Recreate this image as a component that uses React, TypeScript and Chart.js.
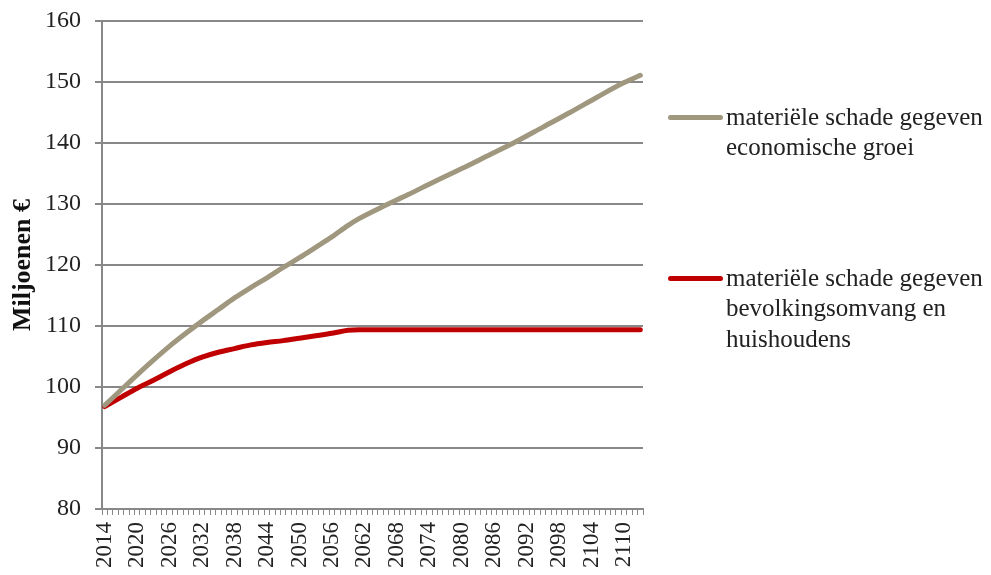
import React, { useEffect, useRef } from "react";
import { Chart, registerables } from "chart.js";

Chart.register(...registerables);

const firstYear = 2014;
const lastYear = 2113;
const labelStep = 6;

const yTicksMin = 80;
const yTicksMax = 160;
const yTicksStep = 10;

const keyYears = [
  2014, 2017, 2020, 2023, 2026, 2029, 2032, 2035, 2038, 2041, 2044, 2047, 2050,
  2053, 2056, 2059, 2061, 2065, 2070, 2075, 2080, 2085, 2090, 2095, 2100, 2105,
  2110, 2113,
];

const economicGrowth = [
  97.0, 99.5, 102.0, 104.4, 106.7, 108.8, 110.8, 112.7, 114.6, 116.3, 117.9,
  119.6, 121.2, 122.9, 124.6, 126.5, 127.6, 129.4, 131.5, 133.7, 135.8, 138.0,
  140.2, 142.6, 145.0, 147.5, 149.9, 151.1,
];

const populationHouseholds = [
  96.8, 98.3, 99.8, 101.1, 102.5, 103.8, 104.9, 105.7, 106.3, 106.9, 107.3,
  107.6, 108.0, 108.4, 108.8, 109.3, 109.4, 109.4, 109.4, 109.4, 109.4, 109.4,
  109.4, 109.4, 109.4, 109.4, 109.4, 109.4,
];

const seriesNames = [
  ["materiële schade gegeven", "economische groei"],
  ["materiële schade gegeven", "bevolkingsomvang en", "huishoudens"],
];
const seriesColors = ["#A0977F", "#C00000"];
const yTitle = "Miljoenen €";

const FONT = "'Liberation Serif', 'Times New Roman', serif";

export default function App() {
  const canvasRef = useRef<HTMLCanvasElement | null>(null);

  useEffect(() => {
    document.body.style.margin = "0";
    const labels: string[] = [];
    for (let y = firstYear; y <= lastYear; y++) labels.push(String(y));
    const toSeries = (vals: number[]) =>
      labels.map((l) => {
        const i = keyYears.indexOf(Number(l));
        return i >= 0 ? vals[i] : null;
      });

    const chart = new Chart(canvasRef.current!, {
      type: "line",
      data: {
        labels,
        datasets: [
          {
            label: seriesNames[0].join(" "),
            data: toSeries(economicGrowth),
            borderColor: seriesColors[0],
            backgroundColor: seriesColors[0],
            borderWidth: 5,
            pointRadius: 0,
            spanGaps: true,
            cubicInterpolationMode: "monotone",
            borderCapStyle: "round",
            borderJoinStyle: "round",
          },
          {
            label: seriesNames[1].join(" "),
            data: toSeries(populationHouseholds),
            borderColor: seriesColors[1],
            backgroundColor: seriesColors[1],
            borderWidth: 5,
            pointRadius: 0,
            spanGaps: true,
            cubicInterpolationMode: "monotone",
            borderCapStyle: "round",
            borderJoinStyle: "round",
          },
        ],
      },
      options: {
        animation: false,
        responsive: true,
        maintainAspectRatio: false,
        layout: { padding: { top: 21, right: 348, left: 0, bottom: 0 } },
        plugins: {
          legend: { display: false },
          tooltip: { enabled: false },
        },
        scales: {
          x: {
            type: "category",
            offset: true,
            grid: {
              offset: true,
              drawOnChartArea: false,
              drawTicks: true,
              tickLength: 6,
              color: "#888888",
              lineWidth: 1,
            },
            border: { color: "#888888", width: 2 },
            ticks: {
              autoSkip: false,
              maxRotation: 90,
              minRotation: 90,
              padding: 7,
              color: "#222222",
              font: { family: FONT, size: 23 },
              callback: (_v: any, i: number) =>
                i % labelStep === 0 ? labels[i] : "",
            },
            afterFit: (scale: any) => {
              scale.height = 66;
              scale.paddingLeft = 0;
              scale.paddingRight = 0;
              scale.paddingTop = 0;
              scale.paddingBottom = 0;
            },
          },
          y: {
            min: yTicksMin,
            max: yTicksMax,
            grid: {
              color: "#888888",
              lineWidth: 2,
              tickLength: 7,
            },
            border: { color: "#888888", width: 2 },
            ticks: {
              stepSize: yTicksStep,
              padding: 14,
              color: "#222222",
              font: { family: FONT, size: 24 },
            },
            title: {
              display: true,
              text: yTitle,
              color: "#111111",
              font: { family: FONT, size: 26, weight: "bold" },
              padding: { top: 8, bottom: 0 },
            },
            afterFit: (scale: any) => {
              scale.width = 102;
              scale.paddingTop = 0;
              scale.paddingBottom = 0;
              scale.paddingLeft = 0;
              scale.paddingRight = 0;
            },
          },
        },
      },
    } as any);
    return () => chart.destroy();
  }, []);

  const legendTops = [101.5, 262.5];
  const lineCenters = [117, 278];

  return (
    <div style={{ position: "relative", width: 991, height: 575 }}>
      <canvas ref={canvasRef} />
      {seriesNames.map((lines, i) => (
        <React.Fragment key={i}>
          <div
            style={{
              position: "absolute",
              left: 668,
              top: lineCenters[i] - 2.5,
              width: 55,
              height: 5,
              borderRadius: 3,
              background: seriesColors[i],
            }}
          />
          <div
            style={{
              position: "absolute",
              left: 726,
              top: legendTops[i],
              fontFamily: FONT,
              fontSize: 25,
              lineHeight: "30.5px",
              color: "#222222",
              whiteSpace: "nowrap",
            }}
          >
            {lines.map((t, j) => (
              <div key={j}>{t}</div>
            ))}
          </div>
        </React.Fragment>
      ))}
    </div>
  );
}
